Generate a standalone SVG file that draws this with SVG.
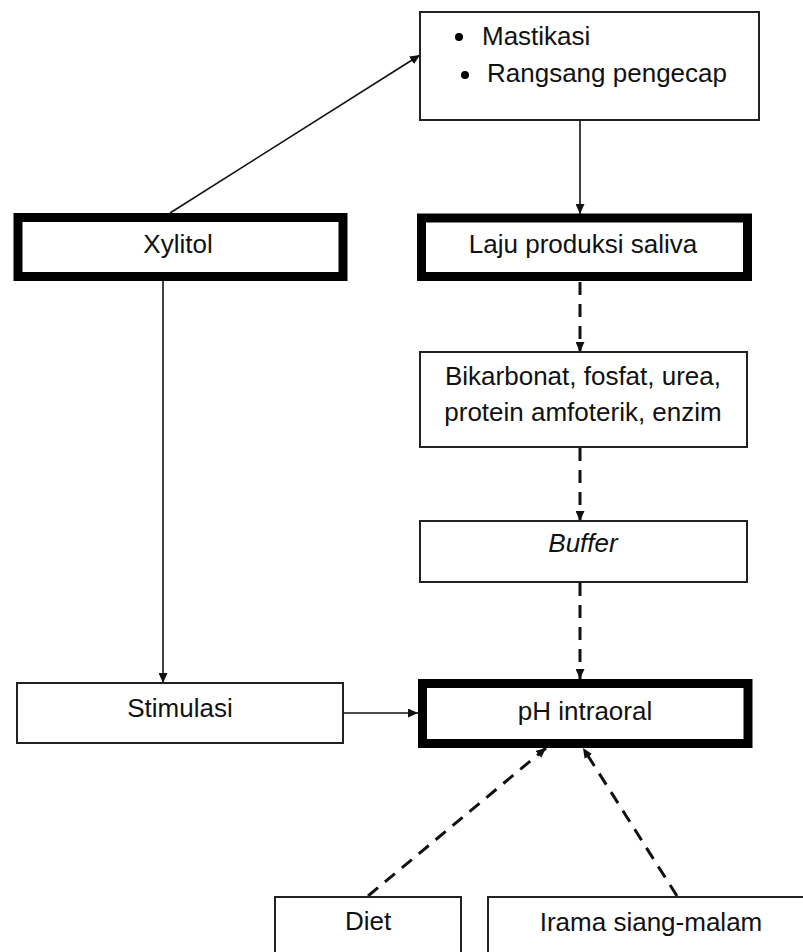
<svg xmlns="http://www.w3.org/2000/svg" width="803" height="952" viewBox="0 0 803 952">
<style>
  text { font-family: "Liberation Sans", Arial, sans-serif; font-size: 26px; fill: #111; }
  .c { text-anchor: middle; }
  .box { fill: #fff; stroke: #222; stroke-width: 2; }
  .thick { fill: #fff; stroke: #000; stroke-width: 9; }
  .solid { fill: none; stroke: #111; stroke-width: 1.6; }
  .dash { fill: none; stroke: #111; stroke-width: 3; stroke-dasharray: 13 9; }
</style>
<defs>
  <marker id="ah" markerUnits="userSpaceOnUse" markerWidth="10" markerHeight="9" refX="10" refY="4.5" orient="auto">
    <path d="M0,0 L10,4.5 L0,9 z" fill="#111"/>
  </marker>
</defs>
<g id="connectors">
  <line class="solid" x1="170" y1="213" x2="420" y2="55" marker-end="url(#ah)"/>
  <line class="solid" x1="580" y1="120" x2="580" y2="214" marker-end="url(#ah)"/>
  <line class="solid" x1="163" y1="281" x2="163" y2="683" marker-end="url(#ah)"/>
  <line class="solid" x1="343" y1="713" x2="418" y2="713" marker-end="url(#ah)"/>
  <line class="dash" x1="580" y1="282" x2="580" y2="352" marker-end="url(#ah)"/>
  <line class="dash" x1="580" y1="448" x2="580" y2="521" marker-end="url(#ah)"/>
  <line class="dash" x1="580" y1="583" x2="580" y2="679" marker-end="url(#ah)"/>
  <line class="dash" x1="368" y1="896" x2="546" y2="748" marker-end="url(#ah)"/>
  <line class="dash" x1="677" y1="896" x2="583" y2="748" marker-end="url(#ah)"/>
</g>
<g id="node-top">
  <rect class="box" x="420" y="12" width="339" height="108"/>
  <circle cx="459" cy="37" r="4" fill="#000"/>
  <text x="482" y="45">Mastikasi</text>
  <circle cx="465" cy="75" r="4" fill="#000"/>
  <text x="487" y="82">Rangsang pengecap</text>
</g>
<g id="node-xylitol">
  <rect class="thick" x="18" y="217.5" width="325" height="59"/>
  <text class="c" x="178" y="253">Xylitol</text>
</g>
<g id="node-laju">
  <rect class="thick" x="421.5" y="218" width="326" height="58.5"/>
  <text class="c" x="583" y="253">Laju produksi saliva</text>
</g>
<g id="node-bikarbonat">
  <rect class="box" x="420" y="352" width="327" height="95"/>
  <text class="c" x="583" y="385">Bikarbonat, fosfat, urea,</text>
  <text class="c" x="583" y="421">protein amfoterik, enzim</text>
</g>
<g id="node-buffer">
  <rect class="box" x="420" y="521" width="327" height="61"/>
  <text class="c" x="583" y="552" font-style="italic">Buffer</text>
</g>
<g id="node-stimulasi">
  <rect class="box" x="17" y="683" width="326" height="60"/>
  <text class="c" x="180" y="717">Stimulasi</text>
</g>
<g id="node-ph">
  <rect class="thick" x="422.5" y="683.5" width="325.5" height="60"/>
  <text class="c" x="585" y="720">pH intraoral</text>
</g>
<g id="node-diet">
  <rect class="box" x="275" y="897" width="186" height="70"/>
  <text class="c" x="368" y="930">Diet</text>
</g>
<g id="node-irama">
  <rect class="box" x="488" y="897" width="330" height="70"/>
  <text class="c" x="651" y="931">Irama siang-malam</text>
</g>
</svg>
